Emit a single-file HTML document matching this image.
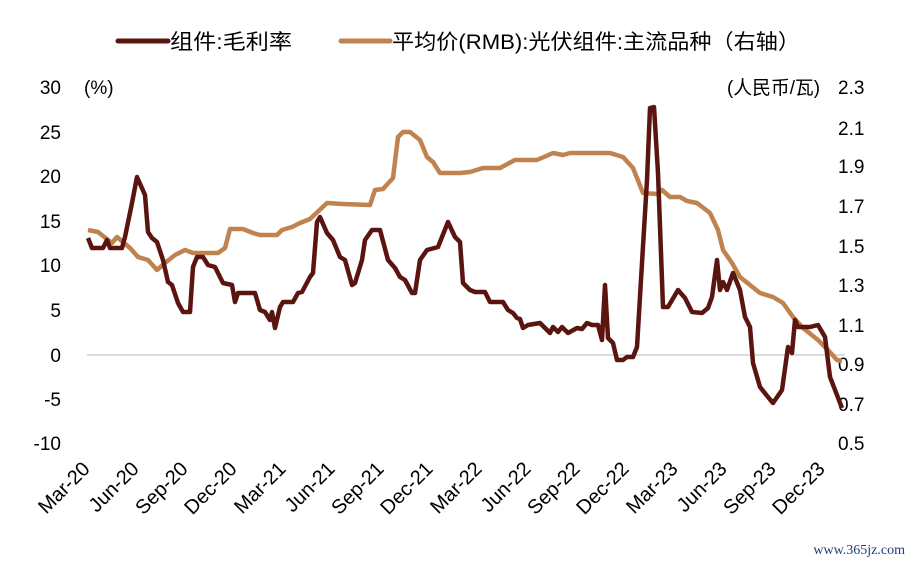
<!DOCTYPE html>
<html><head><meta charset="utf-8"><style>
body{margin:0;background:#fff;}
svg{display:block;font-family:"Liberation Sans","Noto Sans CJK SC",sans-serif;}
</style></head><body>
<svg width="913" height="565" viewBox="0 0 913 565" xmlns="http://www.w3.org/2000/svg">
<rect width="913" height="565" fill="#fff"/>
<line x1="118" y1="41" x2="168" y2="41" stroke="#5a1510" stroke-width="5" stroke-linecap="round"/>
<text x="170" y="49" font-size="21" fill="#000" textLength="122" lengthAdjust="spacingAndGlyphs">组件:毛利率</text>
<line x1="341" y1="41" x2="390" y2="41" stroke="#c0824e" stroke-width="5" stroke-linecap="round"/>
<text x="392" y="49" font-size="21" fill="#000" textLength="408" lengthAdjust="spacingAndGlyphs">平均价(RMB):光伏组件:主流品种（右轴）</text>
<g font-size="19" fill="#000" text-anchor="end">
<text x="61" y="94">30</text>
<text x="61" y="139">25</text>
<text x="61" y="183">20</text>
<text x="61" y="228">15</text>
<text x="61" y="272">10</text>
<text x="61" y="317">5</text>
<text x="61" y="362">0</text>
<text x="61" y="406">-5</text>
<text x="61" y="450">-10</text>
</g>
<text x="84" y="94" font-size="19">(%)</text>
<text x="727" y="94" font-size="19" textLength="93" lengthAdjust="spacingAndGlyphs">(人民币/瓦)</text>
<g font-size="19" fill="#000" text-anchor="start">
<text x="838" y="94">2.3</text>
<text x="838" y="135">2.1</text>
<text x="838" y="173">1.9</text>
<text x="838" y="213">1.7</text>
<text x="838" y="253">1.5</text>
<text x="838" y="292">1.3</text>
<text x="838" y="332">1.1</text>
<text x="838" y="371">0.9</text>
<text x="838" y="411">0.7</text>
<text x="838" y="450">0.5</text>
</g>
<line x1="87" y1="355" x2="845" y2="355" stroke="#d0d0d0" stroke-width="1.5"/>
<g font-size="20" fill="#000" text-anchor="end">
<text transform="translate(91,470) rotate(-45)">Mar-20</text>
<text transform="translate(140,470) rotate(-45)">Jun-20</text>
<text transform="translate(189,470) rotate(-45)">Sep-20</text>
<text transform="translate(238,470) rotate(-45)">Dec-20</text>
<text transform="translate(287,470) rotate(-45)">Mar-21</text>
<text transform="translate(336,470) rotate(-45)">Jun-21</text>
<text transform="translate(385,470) rotate(-45)">Sep-21</text>
<text transform="translate(434,470) rotate(-45)">Dec-21</text>
<text transform="translate(483,470) rotate(-45)">Mar-22</text>
<text transform="translate(532,470) rotate(-45)">Jun-22</text>
<text transform="translate(581,470) rotate(-45)">Sep-22</text>
<text transform="translate(630,470) rotate(-45)">Dec-22</text>
<text transform="translate(679,470) rotate(-45)">Mar-23</text>
<text transform="translate(728,470) rotate(-45)">Jun-23</text>
<text transform="translate(777,470) rotate(-45)">Sep-23</text>
<text transform="translate(826,470) rotate(-45)">Dec-23</text>
</g>
<text x="905" y="554" font-size="14" fill="#1f3b7a" text-anchor="end" font-family="Liberation Serif,serif">www.365jz.com</text>
<polyline fill="none" stroke="#c0824e" stroke-width="4.5" stroke-linejoin="round" points="88,230 98,232 112,243 117,237 130,248 138,257 148,260 157,270 165,263 175,255 185,250 193,253 218,253 225,248 230,229 243,229 253,233 260,235 277,235 282,230 292,227 300,223 310,219 327,203 343,204 370,205 375,190 383,189 393,178 398,137 403,132 410,132 420,140 427,157 433,162 440,173 460,173 470,172 483,168 500,168 515,160 537,160 553,153 563,155 570,153 610,153 623,157 633,168 643,193 657,194 662,190 670,197 680,197 687,201 697,203 710,213 718,230 723,250 732,263 740,277 750,285 760,293 773,297 783,303 793,317 803,328 818,340 828,350 837,360 842,361"/>
<polyline fill="none" stroke="#5a1510" stroke-width="4.5" stroke-linejoin="round" points="88,238 92,248 103,248 107,240 110,248 122,248 125,237 132,203 137,177 145,195 148,232 152,238 157,242 163,260 168,282 172,285 178,303 183,312 190,312 193,267 197,257 203,257 208,265 215,267 223,283 232,285 235,302 238,293 255,293 260,310 265,312 270,320 272,312 275,328 280,307 283,302 293,302 298,293 302,292 310,277 313,273 317,222 320,217 327,233 333,240 340,257 345,260 352,285 355,283 362,260 365,240 372,230 380,230 388,260 395,268 400,277 405,280 412,293 415,293 420,260 427,250 438,247 448,222 455,237 460,242 463,283 470,290 475,292 485,292 490,302 503,302 508,310 513,313 517,318 520,319 523,328 528,325 540,323 550,333 553,327 558,332 562,327 568,333 577,328 582,329 587,323 592,325 598,325 602,340 605,285 608,338 613,343 617,360 623,360 627,357 633,357 637,347 642,263 647,180 650,108 654,107 658,173 663,307 668,307 678,290 685,298 692,312 702,313 708,308 712,297 717,260 720,290 723,282 727,290 733,273 740,290 745,317 750,327 753,363 760,387 768,397 773,403 782,390 788,347 792,353 795,320 798,327 810,327 818,325 825,337 830,377 842,408"/>
</svg>
</body></html>
